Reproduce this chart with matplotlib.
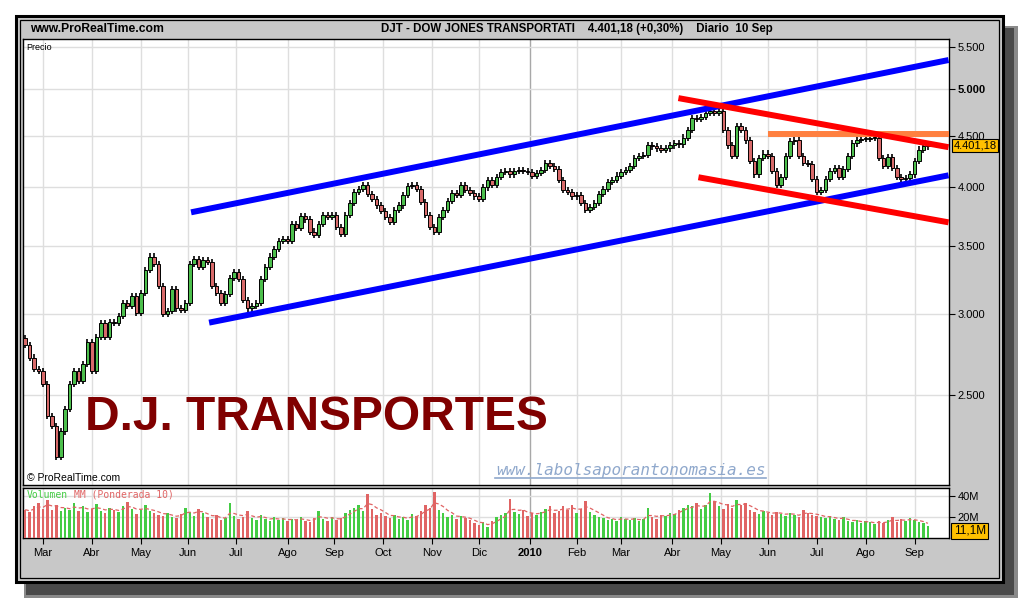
import numpy as np
import pandas as pd
import matplotlib
matplotlib.use('Agg')
import matplotlib.pyplot as plt
from matplotlib.patches import Rectangle
from matplotlib.lines import Line2D
from matplotlib.ticker import NullLocator

# --- datos (cierres cada 2 sesiones) ---
dates = pd.bdate_range('2009-02-18', '2010-09-10')[::2]
first_open = 2840
closes = [
    2800, 2720, 2650, 2640, 2560, 2380, 2330, 2170, 2300, 2420,
    2560, 2640, 2580, 2680, 2820, 2640, 2850, 2940, 2850, 2950,
    2940, 2990, 3080, 3060, 3130, 3010, 3150, 3320, 3420, 3360,
    3200, 3000, 3020, 3180, 3040, 3030, 3080, 3360, 3400, 3340,
    3390, 3380, 3200, 3150, 3080, 3140, 3260, 3300, 3250, 3100,
    3040, 3060, 3080, 3250, 3340, 3420, 3480, 3540, 3560, 3540,
    3680, 3650, 3750, 3720, 3620, 3590, 3680, 3760, 3740, 3760,
    3660, 3600, 3760, 3860, 3960, 3990, 4020, 3940, 3900, 3840,
    3790, 3740, 3700, 3800, 3840, 3930, 4010, 4020, 3990, 3870,
    3760, 3660, 3620, 3740, 3800, 3880, 3950, 3930, 4020, 3980,
    3950, 3920, 3900, 4000, 4070, 4020, 4100, 4140, 4150, 4120,
    4150, 4160, 4150, 4140, 4110, 4130, 4160, 4230, 4200, 4170,
    4070, 3980, 3960, 3920, 3930, 3860, 3800, 3830, 3860, 3940,
    3990, 4050, 4070, 4110, 4140, 4160, 4200, 4280, 4300, 4310,
    4400, 4390, 4370, 4360, 4370, 4400, 4420, 4410, 4480, 4560,
    4680, 4670, 4690, 4740, 4760, 4740, 4760, 4560, 4400, 4300,
    4600, 4560, 4450, 4250, 4120, 4280, 4320, 4300, 4150, 4020,
    4100, 4300, 4440, 4450, 4300, 4230, 4220, 4080, 3960, 3980,
    4080, 4150, 4180, 4100, 4170, 4300, 4420, 4460, 4470, 4470,
    4480, 4480, 4280, 4200, 4290, 4180, 4100, 4080, 4090, 4120,
    4250, 4360, 4390, 4401.18,
]
# volumen en millones
volumes = [
    27, 25, 30, 33, 28, 36, 27, 31, 26, 29,
    27, 33, 26, 30, 25, 28, 32, 26, 24, 29,
    27, 25, 30, 34, 28, 23, 27, 31, 26, 24,
    22, 21, 24, 20, 19, 23, 29, 25, 21, 28,
    24, 20, 18, 22, 17, 19, 33, 21, 18, 20,
    26, 19, 17, 22, 18, 16, 20, 17, 19, 16,
    18, 17, 20, 16, 15, 19, 26, 18, 16, 20,
    17, 19, 24, 27, 29, 31, 26, 42, 28, 22,
    24, 21, 19, 22, 18, 20, 17, 23, 21, 26,
    31, 29, 44, 27, 24, 20, 22, 18, 21, 19,
    17, 14, 12, 15, 10, 16, 20, 22, 24, 37,
    25, 23, 27, 21, 24, 22, 25, 28, 30, 24,
    26, 30, 27, 31, 24, 28, 35, 25, 22, 20,
    19, 17, 18, 16, 20, 18, 17, 19, 16, 18,
    29, 20, 18, 22, 21, 24, 23, 27, 29, 31,
    30, 33, 28, 31, 43, 34, 30, 28, 32, 29,
    36, 31, 33, 27, 25, 23, 26, 24, 22, 25,
    23, 21, 24, 22, 20, 27, 24, 22, 21, 20,
    19, 21, 18, 17, 20, 16, 15, 17, 14, 16,
    15, 13, 16, 14, 17, 20, 15, 18, 16, 19,
    17, 15, 14, 11.1,
]
month_labels = ['Mar', 'Abr', 'May', 'Jun', 'Jul', 'Ago', 'Sep', 'Oct', 'Nov', 'Dic',
                '2010', 'Feb', 'Mar', 'Abr', 'May', 'Jun', 'Jul', 'Ago', 'Sep']
price_ticks = [2500, 3000, 3500, 4000, 4500, 5000, 5500]
price_tick_labels = ['2.500', '3.000', '3.500', '4.000', '4.500', '5.000', '5.500']

# lineas de tendencia: (indice de sesion, precio)
blue_upper = ([74.6, 415.3], [3781, 5341])
blue_lower = ([82.7, 415.3], [2944, 4112])
red_upper = ([293.8, 415.3], [4899, 4383])
red_lower = ([302.8, 415.3], [4094, 3696])
orange_res = ([334.3, 415.3], [4515, 4515])

W, H = 1020, 600


def fx(x):
    return x / W


def fy(y):
    return 1 - y / H


plt.rcParams['font.family'] = ['Liberation Sans', 'DejaVu Sans']

fig = plt.figure(figsize=(10.2, 6.0), dpi=100)
fig.patch.set_facecolor('white')

# sombra y marco
fig.add_artist(Rectangle((fx(24), fy(598)), fx(1018 - 24), (598 - 26) / H,
                         transform=fig.transFigure, fc='#8a8a8a', ec='none', zorder=-7))
fig.add_artist(Rectangle((fx(26), fy(595)), fx(1014 - 26), (595 - 28) / H,
                         transform=fig.transFigure, fc='#4a4a4a', ec='none', zorder=-6))
fig.add_artist(Rectangle((fx(16), fy(582)), fx(1003 - 16), (582 - 16) / H,
                         transform=fig.transFigure, fc='#c8c8c8', ec='black', lw=2.2, zorder=-5))
fig.add_artist(Rectangle((fx(20), fy(578)), fx(999 - 20), (578 - 20) / H,
                         transform=fig.transFigure, fc='none', ec='black', lw=0.9, zorder=-4))

ax = fig.add_axes([fx(23), fy(485), fx(949 - 23), (485 - 39) / H])
axv = fig.add_axes([fx(23), fy(538), fx(949 - 23), (538 - 488) / H])

x = np.arange(len(closes)) * 2
closes = np.array(closes, dtype=float)
opens = np.concatenate([[first_open], closes[:-1]])
up = closes >= opens
green = '#4cbf4c'
red = '#d86a6a'

# posiciones de los meses
all_days = pd.bdate_range('2009-02-18', '2010-09-10')
month_pos = [i for i in range(1, len(all_days)) if all_days[i].month != all_days[i - 1].month]

for a in (ax, axv):
    a.set_facecolor('white')
    a.set_xlim(-1, 415.5)
    for xm, lab in zip(month_pos, month_labels):
        a.axvline(xm, color='#a8a8a8' if lab == '2010' else '#dedede', lw=1, zorder=0)
    for s in a.spines.values():
        s.set_color('black')
        s.set_linewidth(1)

# velas
wick_pad = 0.007
body_lo = np.minimum(opens, closes)
body_hi = np.maximum(opens, closes)
ax.vlines(x, body_lo * (1 - wick_pad), body_hi * (1 + wick_pad), color='black', lw=1.2, zorder=3)
heights = np.maximum(body_hi - body_lo, body_hi * 0.002)
ax.bar(x, heights, bottom=body_lo, width=1.6, color=np.where(up, green, red),
       edgecolor='black', linewidth=0.7, zorder=4)

# tendencias
ax.plot(*blue_upper, color='#0000ff', lw=4.3, solid_capstyle='butt', zorder=5)
ax.plot(*blue_lower, color='#0000ff', lw=4.3, solid_capstyle='butt', zorder=5)
ax.plot(*red_upper, color='#ff0000', lw=4.3, solid_capstyle='butt', zorder=5)
ax.plot(*red_lower, color='#ff0000', lw=4.3, solid_capstyle='butt', zorder=5)
ax.plot(*orange_res, color='#ff8040', lw=4.3, solid_capstyle='butt', zorder=4.5)

ax.set_yscale('log')
ax.set_ylim(2037, 5602)
ax.set_yticks(price_ticks)
ax.set_yticklabels(price_tick_labels)
ax.yaxis.set_minor_locator(NullLocator())
ax.yaxis.tick_right()
for yt in price_ticks:
    ax.axhline(yt, color='#dedede', lw=1, zorder=0)
ax.tick_params(axis='y', direction='out', length=4, pad=2, labelsize=8)
for t in ax.get_yticklabels():
    if t.get_text() == '5.000':
        t.set_fontweight('bold')
ax.set_xticks([])

ax.text(0.004, 0.99, 'Precio', transform=ax.transAxes, fontsize=6.5, va='top', ha='left')
ax.text(0.004, 0.005, '\u00a9 ProRealTime.com', transform=ax.transAxes, fontsize=7.5,
        va='bottom', ha='left')
ax.text(1.005, closes[-1], '4.401,18', transform=ax.get_yaxis_transform(), fontsize=8,
        va='center', ha='left', zorder=10,
        bbox=dict(boxstyle='square,pad=0.15', fc='#ffc000', ec='black', lw=0.8), clip_on=False)

# volumen
vol = pd.Series(volumes, dtype=float)
wts = np.arange(1, 6)
vol_ma = vol.rolling(5, min_periods=1).apply(lambda s: np.dot(s, wts[-len(s):]) / wts[-len(s):].sum(), raw=True)
axv.bar(x, vol, width=1.1, color=np.where(up, '#44cc44', '#e06464'), zorder=3)
axv.plot(x, vol_ma, color='#e06464', lw=0.9, ls=(0, (3, 2)), zorder=4)
axv.set_ylim(0, 47.6)
axv.set_yticks([20, 40])
axv.set_yticklabels(['20M', '40M'])
axv.yaxis.tick_right()
for yt in (20, 40):
    axv.axhline(yt, color='#dedede', lw=1, zorder=0)
axv.tick_params(axis='y', direction='out', length=4, pad=2, labelsize=8)
axv.set_xticks(month_pos)
axv.set_xticklabels(month_labels)
axv.tick_params(axis='x', direction='out', length=4, pad=3, labelsize=8)
for t in axv.get_xticklabels():
    if t.get_text() == '2010':
        t.set_fontweight('bold')
axv.text(0.004, 0.97, 'Volumen', transform=axv.transAxes, fontsize=7, va='top', ha='left',
         color='#44cc44', family='DejaVu Sans Mono')
axv.text(0.004 + 8 * 5.85 / 926, 0.97, 'MM (Ponderada 10)', transform=axv.transAxes, fontsize=7,
         va='top', ha='left', color='#e06464', family='DejaVu Sans Mono')
axv.text(1.005, volumes[-1] - 4.4, '11,1M', transform=axv.get_yaxis_transform(), fontsize=8.5,
         va='center', ha='left', zorder=10,
         bbox=dict(boxstyle='square,pad=0.2', fc='#ffc000', ec='black', lw=0.8), clip_on=False)

# textos de cabecera y marca
fig.text(fx(30), fy(29), 'www.ProRealTime.com', fontsize=8.7, fontweight='bold', va='center',
         ha='left', family=['Liberation Sans Narrow', 'Liberation Sans'])
fig.text(fx(577), fy(29), 'DJT - DOW JONES TRANSPORTATI    4.401,18 (+0,30%)    Diario  10 Sep',
         fontsize=8.3, fontweight='bold', va='center', ha='center',
         family=['Liberation Sans Narrow', 'Liberation Sans'])
fig.text(fx(85), fy(418), 'D.J. TRANSPORTES', fontsize=34.5, fontweight='bold', color='#800000',
         va='center', ha='left')
fig.text(fx(496), fy(470), 'www.labolsaporantonomasia.es', fontsize=11.5, color='#8fa8cc',
         va='center', ha='left', family='DejaVu Sans Mono', style='italic')
fig.add_artist(Line2D([fx(495), fx(766)], [fy(478), fy(478)], transform=fig.transFigure,
                      color='#8fa8cc', lw=1.2))

fig.savefig('out.png', dpi=100)
